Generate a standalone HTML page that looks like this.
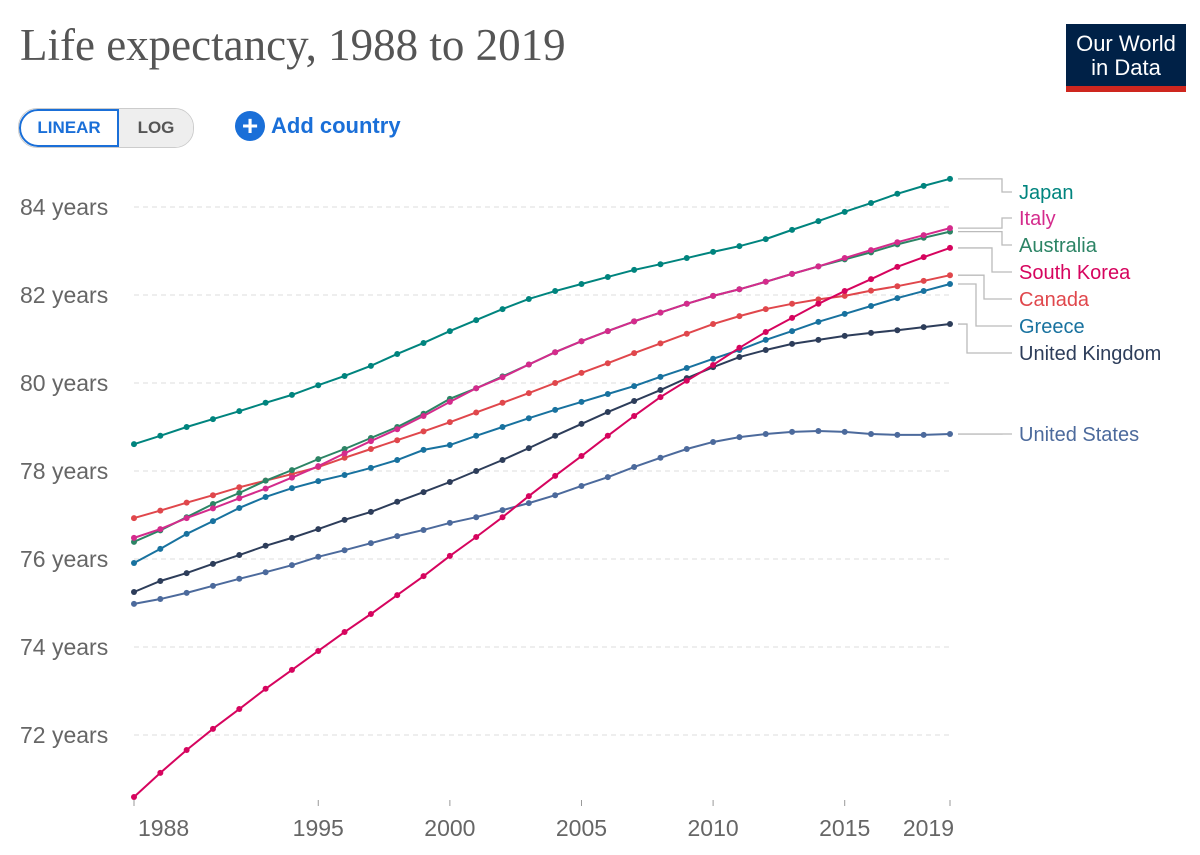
<!DOCTYPE html>
<html><head><meta charset="utf-8">
<style>
body{margin:0;background:#fff;width:1200px;height:855px;overflow:hidden;font-family:"Liberation Sans",sans-serif;}
#title{position:absolute;left:20px;top:19px;font-family:"Liberation Serif",serif;font-size:45px;color:#555;}
#logo{position:absolute;left:1066px;top:24px;width:120px;height:68px;background:#002147;color:#fff;font-size:22px;line-height:24px;text-align:center;padding-top:8px;box-sizing:border-box;border-bottom:6px solid #ce261e;}
#toggle{position:absolute;left:18px;top:108px;height:38px;display:flex;border-radius:19px;overflow:hidden;border:1px solid #ccc;}
#lin{width:100px;border:2px solid #1a6fd8;border-radius:19px 0 0 19px;color:#1a6fd8;font-weight:bold;font-size:17px;display:flex;align-items:center;justify-content:center;box-sizing:border-box;}
#log{width:74px;background:#eee;color:#555;font-weight:bold;font-size:17px;display:flex;align-items:center;justify-content:center;}
#add{position:absolute;left:235px;top:111px;color:#1a6fd8;font-weight:bold;font-size:22px;display:flex;align-items:center;gap:6px;}
#add span.c{width:30px;height:30px;border-radius:50%;background:#1a6fd8;color:#fff;display:inline-flex;align-items:center;justify-content:center;font-size:28px;line-height:30px;}
svg{position:absolute;left:0;top:0;}
</style></head><body>
<div id="title">Life expectancy, 1988 to 2019</div>
<div id="logo">Our World<br>in Data</div>
<div id="toggle"><div id="lin">LINEAR</div><div id="log">LOG</div></div>
<div id="add"><span class="c">+</span>Add country</div>
<svg id="chart" width="1200" height="855"></svg>
<script>
const years=[];for(let y=1988;y<=2019;y++)years.push(y);
const yTicks=[72,74,76,78,80,82,84];
const xTicks=[1988,1995,2000,2005,2010,2015,2019];
const countries=["Japan","Italy","Australia","South Korea","Canada","Greece","United Kingdom","United States"];
const colors=["#00847e","#d42b8c","#2c8465","#d6045e","#e0474c","#18729f","#2d3d5a","#4c6a9c"];
const japan=[78.61,78.80,79.00,79.18,79.36,79.55,79.73,79.95,80.16,80.39,80.66,80.91,81.18,81.43,81.68,81.91,82.09,82.25,82.41,82.57,82.70,82.84,82.98,83.11,83.27,83.48,83.68,83.89,84.09,84.30,84.48,84.64];
const italy=[76.48,76.68,76.93,77.15,77.38,77.60,77.85,78.11,78.40,78.68,78.95,79.25,79.57,79.88,80.13,80.42,80.70,80.95,81.18,81.40,81.60,81.80,81.98,82.13,82.30,82.48,82.65,82.84,83.02,83.20,83.36,83.52];
const australia=[76.39,76.65,76.95,77.25,77.50,77.78,78.02,78.27,78.50,78.75,79.00,79.30,79.64,79.88,80.15,80.42,80.70,80.95,81.18,81.40,81.60,81.80,81.98,82.13,82.30,82.48,82.65,82.81,82.97,83.15,83.30,83.44];
const southKorea=[70.59,71.14,71.66,72.14,72.59,73.05,73.48,73.91,74.34,74.75,75.18,75.61,76.07,76.50,76.95,77.43,77.89,78.34,78.80,79.25,79.68,80.05,80.41,80.80,81.16,81.48,81.80,82.09,82.36,82.64,82.86,83.07];
const canada=[76.93,77.10,77.28,77.45,77.63,77.78,77.93,78.09,78.30,78.50,78.70,78.90,79.11,79.33,79.55,79.77,80.00,80.23,80.45,80.68,80.90,81.12,81.34,81.52,81.68,81.80,81.90,81.98,82.10,82.20,82.32,82.45];
const greece=[75.91,76.23,76.57,76.86,77.16,77.41,77.61,77.77,77.91,78.07,78.25,78.48,78.59,78.80,79.00,79.20,79.39,79.57,79.75,79.93,80.14,80.34,80.55,80.75,80.98,81.18,81.39,81.57,81.75,81.93,82.09,82.25];
const uk=[75.25,75.50,75.68,75.89,76.09,76.30,76.48,76.68,76.89,77.07,77.30,77.52,77.75,78.00,78.25,78.52,78.80,79.07,79.34,79.59,79.84,80.11,80.36,80.59,80.75,80.89,80.98,81.07,81.14,81.20,81.27,81.34];
const us=[74.98,75.09,75.23,75.39,75.55,75.70,75.86,76.05,76.20,76.36,76.52,76.66,76.82,76.95,77.11,77.27,77.45,77.66,77.86,78.09,78.30,78.50,78.66,78.77,78.84,78.89,78.91,78.89,78.84,78.82,78.82,78.84];
const series=[japan,italy,australia,southKorea,canada,greece,uk,us];
const labelY=[198,224,251,278,305,332,359,440];
const elbowX=[1002,1002,1002,992,984,976,967,1002];

const X=v=>134+(v-1988)*(950-134)/31;
const Y=v=>207+(84-v)*44;
const svg=document.getElementById('chart');
const NS="http://www.w3.org/2000/svg";
function mk(t,a){const e=document.createElementNS(NS,t);for(const k in a)e.setAttribute(k,a[k]);svg.appendChild(e);return e;}
yTicks.forEach(t=>{
  const l=mk('line',{x1:134,x2:950,y1:Y(t),y2:Y(t),stroke:'#ddd','stroke-dasharray':'5,4'});
  
  
  const tx=mk('text',{x:20,y:Y(t)+8,'font-size':23,fill:'#666','font-family':'Liberation Sans, sans-serif'});
  tx.textContent=t+' years';
  
  
});
xTicks.forEach(t=>{
  const l=mk('line',{x1:X(t),x2:X(t),y1:800,y2:806,stroke:'#999'});
  
  
  const tx=mk('text',{x:X(t),y:836,'font-size':23,fill:'#666','text-anchor':t==1988?'start':(t==2019?'end':'middle'),'font-family':'Liberation Sans, sans-serif'});
  if(t==1988)tx.setAttribute('x',X(t)+4);
  if(t==2019)tx.setAttribute('x',X(t)+4);
  tx.textContent=t;
  
  
});
series.slice().reverse().forEach((s,ri)=>{
  const i=series.length-1-ri;
  const pts=s.map((v,j)=>X(years[j])+','+Y(v)).join(' ');
  const pl=mk('polyline',{points:pts,fill:'none',stroke:colors[i],'stroke-width':2});
  
  
  s.forEach((v,j)=>{
    const c=mk('circle',{cx:X(years[j]),cy:Y(v),r:3,fill:colors[i]});
    
    
  });
});
series.forEach((s,i)=>{
  const ey=Y(s[s.length-1]),ly=labelY[i]-6;
  const p=mk('polyline',{points:`958,${ey} ${elbowX[i]},${ey} ${elbowX[i]},${ly} 1012,${ly}`,fill:'none',stroke:'#bbb','stroke-width':1.3});
  
  
  const tx=mk('text',{x:1019,y:labelY[i]+1,'font-size':20,fill:colors[i],'font-family':'Liberation Sans, sans-serif'});
  tx.textContent=countries[i];
  
  
});
</script>
</body></html>
